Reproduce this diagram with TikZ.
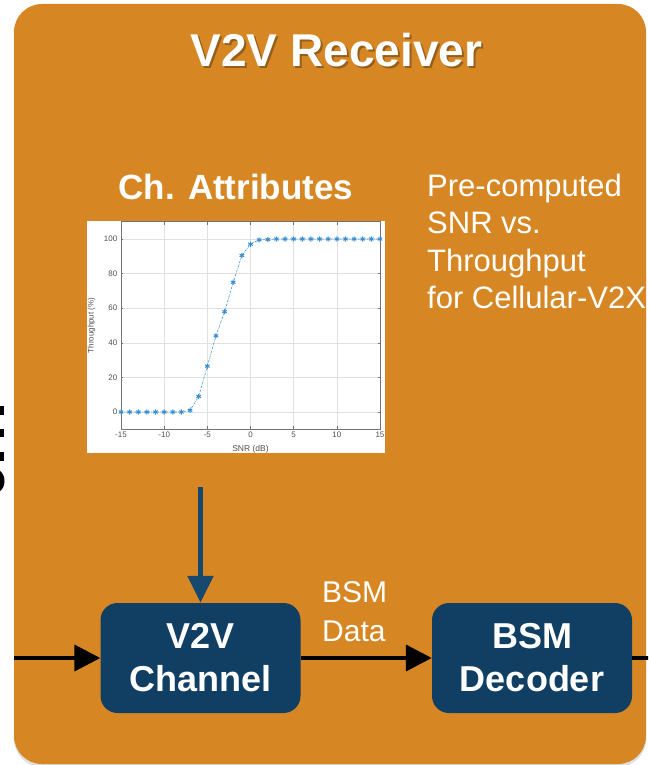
\documentclass[tikz,border=0pt]{standalone}
\usepackage{fontspec}
\setmainfont{Liberation Sans}
\usetikzlibrary{arrows.meta,shadows,plotmarks}
\definecolor{rxorange}{HTML}{D68724}
\definecolor{blockblue}{HTML}{103F63}
\definecolor{feedblue}{HTML}{17496E}
\definecolor{curveblue}{HTML}{3A8FD0}
\definecolor{ticktext}{HTML}{505050}

\begin{document}
\begin{tikzpicture}[x=1pt,y=-1pt,
  panel/.style={fill=rxorange, rounded corners=28pt,
    drop shadow={shadow xshift=0pt, shadow yshift=-3pt, opacity=0.25}},
  block/.style={fill=blockblue, rounded corners=17pt, text=white,
    font=\bfseries\fontsize{36}{43}\selectfont, align=center,
    minimum width=200pt, minimum height=110pt, inner sep=0pt},
  note/.style={text=white, font=\fontsize{31}{37.5}\selectfont,
    align=left, inner sep=0pt, anchor=north west},
  flow/.style={draw=black, line width=4pt, -{Triangle[length=26pt,width=26pt]}},
  feed/.style={draw=feedblue, color=feedblue, line width=5pt,
    -{Triangle[length=27pt,width=25pt]}},
  gridline/.style={draw=black!12, line width=0.5pt},
  ticklabel/.style={text=ticktext, font=\fontsize{8}{9}\selectfont, inner sep=1pt},
]
\useasboundingbox (0,0) rectangle (648,765);
\clip (0,0) rectangle (648,765);
\fill[white] (0,0) rectangle (648,765);

% clipped glyph ends at the far left
\fill[black] (0,406) rectangle (4,415);
\fill[black] (0,429) rectangle (4,437);
\fill[black] (0,452) rectangle (4,461);
\fill[black] (0,471) .. controls (6,475) and (6,487) .. (0,491) -- cycle;

% receiver panel
\path[panel] (14,4) rectangle (646,764);

% title with its soft shadow
\node[text=black, opacity=0.3, inner sep=0pt, anchor=base,
  font=\bfseries\fontsize{46}{50}\selectfont] (titleshadow) at (338.5,69) {V2V Receiver};
\node[text=white, inner sep=0pt, anchor=base,
  font=\bfseries\fontsize{46}{50}\selectfont] (title) at (336.5,67) {V2V Receiver};

% channel attributes heading and note
\node[text=white, inner sep=0pt, anchor=base,
  font=\bfseries\fontsize{35}{40}\selectfont] (attr) at (236,199) {Ch. Attributes};
\node[note] (precomp) at (427,173.5) {Pre-computed\\SNR vs.\\Throughput\\for Cellular-V2X};

% throughput curve
\node[fill=white, inner sep=0pt, minimum width=298pt, minimum height=232pt] (plot) at (236,337) {};
\begin{scope}[shift={(250.5,412)}, x=8.633pt, y=1.73pt]
  \foreach \s in {-15,-10,...,15} \draw[gridline] (\s,-10) -- (\s,110);
  \foreach \t in {0,20,...,100} \draw[gridline] (-15,\t) -- (15,\t);
  \draw[black!55, line width=0.5pt] (-15,-10) rectangle (15,110);
  \foreach \s in {-15,-10,...,15} {
    \draw[black!55, line width=0.4pt] (\s,-10) -- (\s,-8);
    \draw[black!55, line width=0.4pt] (\s,110) -- (\s,108);
    \node[ticklabel, anchor=north] at (\s,-11) {\s};
  }
  \foreach \t in {0,20,...,100} {
    \draw[black!55, line width=0.4pt] (-15,\t) -- (-14.75,\t);
    \draw[black!55, line width=0.4pt] (15,\t) -- (14.75,\t);
    \node[ticklabel, anchor=east] at (-15.3,\t) {\t};
  }
  \node[ticklabel, font=\fontsize{8.5}{9}\selectfont] (xlab) at (0,-21.3) {SNR (dB)};
  \node[ticklabel, font=\fontsize{8}{9}\selectfont, rotate=90] (ylab) at (-18.4,50) {Throughput (\%)};
  \draw[curveblue, line width=0.6pt, dash pattern=on 2pt off 1pt on 0.5pt off 1pt,
    mark=asterisk, mark size=2.6pt,
    mark options={solid, line width=1pt}]
    plot coordinates {(-15,0) (-14,0) (-13,0) (-12,0) (-11,0) (-10,0) (-9,0) (-8,0)
      (-7,1) (-6,9) (-5,26.5) (-4,44) (-3,58) (-2,75) (-1,90.5) (0,97)
      (1,99.5) (2,99.7) (3,100) (4,100) (5,100) (6,100) (7,100) (8,100) (9,100)
      (10,100) (11,100) (12,100) (13,100) (14,100) (15,100)};
\end{scope}

% processing blocks
\node[block] (chan) at (200.5,658) {V2V\\Channel};
\node[block] (dec) at (532,658) {BSM\\Decoder};
\node[note, font=\fontsize{30}{39}\selectfont] (bsmdata) at (322,581.5) {BSM\\Data};

% connectors
\coordinate (feedsrc) at (200.5,487);
\coordinate (inlet) at (14,658);
\coordinate (outlet) at (650,658);
\draw[feed] (feedsrc) -- (chan.north);
\draw[flow] (inlet) -- (chan.west);
\draw[flow] (chan.east) -- (dec.west);
\draw[draw=black, line width=4pt] (dec.east) -- (outlet);
\end{tikzpicture}
\end{document}
